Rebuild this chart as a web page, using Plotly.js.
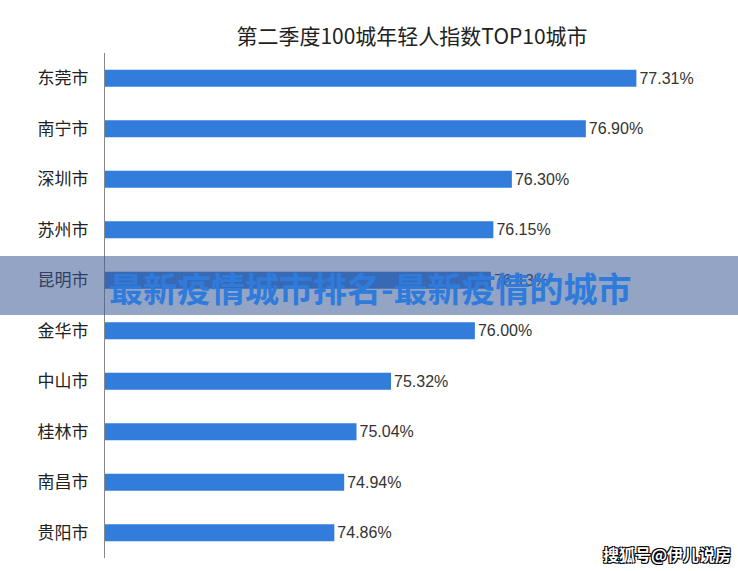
<!DOCTYPE html>
<html>
<head>
<meta charset="utf-8">
<script src="https://cdn.plot.ly/plotly-3.0.1.min.js"></script>
<style>html,body{margin:0;padding:0;background:#fff;}#chart{width:738px;height:571px;}</style>
</head>
<body>
<div id="chart"></div>
<script>
const cities = ["东莞市","南宁市","深圳市","苏州市","昆明市","金华市","中山市","桂林市","南昌市","贵阳市"];
const values = [77.31, 76.90, 76.30, 76.15, 76.13, 76.00, 75.32, 75.04, 74.94, 74.86];
const chartTitle = "第二季度100城年轻人指数TOP10城市";
const bannerText = "最新疫情城市排名-最新疫情的城市";
const watermark = "搜狐号@伊儿说房";
const axisMin = 73;

const cjk = '"Noto Sans CJK SC", "Liberation Sans", Arial, sans-serif';
const trace = {
  type: 'bar',
  orientation: 'h',
  y: cities,
  x: values.map(v => v - axisMin),
  base: axisMin,
  marker: {color: '#327ddc'},
  width: 0.34,
  text: values.map(v => v.toFixed(2) + '%'),
  textposition: 'outside',
  textfont: {family: '"Liberation Sans", Arial, sans-serif', size: 16, color: '#333'},
  cliponaxis: false,
  hoverinfo: 'none'
};

const layout = {
  width: 738, height: 571,
  margin: {l: 105, r: 19, t: 53, b: 13},
  paper_bgcolor: '#fff', plot_bgcolor: '#fff',
  showlegend: false,
  title: {text: chartTitle, x: 0.5, xref: 'paper', xanchor: 'center', y: 0.935, yanchor: 'middle',
          font: {family: cjk, size: 21, color: '#222'}},
  xaxis: {range: [axisMin, 77.98], showticklabels: false, showgrid: false, zeroline: false, showline: false, ticks: ''},
  yaxis: {autorange: 'reversed', showline: true, linecolor: '#888', linewidth: 1, showgrid: false, ticks: '',
          ticklabelstandoff: 12, tickfont: {family: cjk, size: 17, color: '#222'}},
  shapes: [{
    type: 'rect', xref: 'paper', yref: 'paper', layer: 'above',
    x0: -0.2, x1: 1.1, y0: 0.481, y1: 0.598,
    fillcolor: 'rgba(60,90,150,0.55)', line: {width: 0}
  }],
  annotations: [{
    text: '<b>' + bannerText + '</b>', xref: 'paper', yref: 'paper',
    x: (370 - 105) / 614, y: (558 - 287) / 505, xanchor: 'center', yanchor: 'middle', showarrow: false,
    font: {family: cjk, size: 34, color: '#2f7bdc'}
  }, {
    text: '<b>' + watermark + '</b>', xref: 'paper', yref: 'paper',
    x: (733 - 105) / 614, y: (558 - 554) / 505, xanchor: 'right', yanchor: 'middle', showarrow: false,
    font: {family: cjk, size: 16, color: '#fff',
           shadow: '-1px -1px 0 #000, 1px -1px 0 #000, -1px 1px 0 #000, 1px 1px 0 #000'}
  }]
};
Plotly.newPlot('chart', [trace], layout, {displayModeBar: false, staticPlot: true});
</script>
</body>
</html>
